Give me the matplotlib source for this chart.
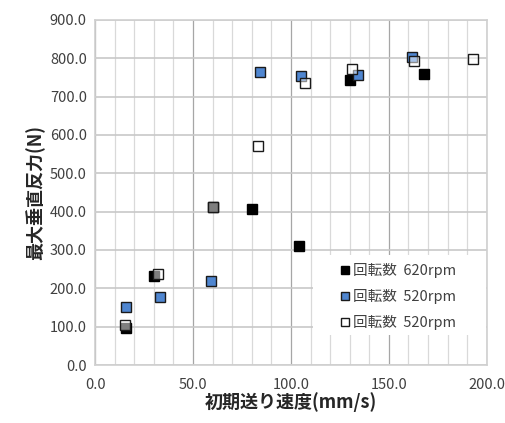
import matplotlib
matplotlib.use('Agg')
import matplotlib.pyplot as plt
from matplotlib.patches import Rectangle
from matplotlib.ticker import MultipleLocator, FormatStrFormatter

plt.rcParams['font.family'] = ['Noto Sans CJK JP', 'DejaVu Sans']

# 回転数 620rpm
x_620 = [16, 30, 60, 80, 104, 130, 168]
y_620 = [97, 232, 411, 407, 311, 744, 760]
# 回転数 520rpm (青)
x_520a = [16, 33, 59, 84, 105, 134, 162]
y_520a = [151, 178, 219, 763, 753, 755, 803]
# 回転数 520rpm (白)
x_520b = [15, 32, 60, 83, 107, 131, 163, 193]
y_520b = [104, 238, 413, 572, 735, 773, 793, 798]

labels = ['回転数  620rpm', '回転数  520rpm', '回転数  520rpm']

fig = plt.figure(figsize=(5.06, 4.23), dpi=100)
ax = fig.add_axes([0.188, 0.137, 0.774, 0.816])

ms = 7.5
ax.plot(x_620, y_620, 's', ms=ms, mfc='black', mec='black', mew=1.0, label=labels[0], zorder=3)
ax.plot(x_520a, y_520a, 's', ms=ms, mfc='#4f86d0', mec='#1a1a1a', mew=1.0, label=labels[1], zorder=4)
ax.plot(x_520b, y_520b, 's', ms=ms, mfc=(1, 1, 1, 0.5), mec='#1a1a1a', mew=1.0, label=labels[2], zorder=5)

ax.set_xlim(0, 200)
ax.set_ylim(0, 900)
ax.xaxis.set_major_locator(MultipleLocator(50))
ax.xaxis.set_minor_locator(MultipleLocator(10))
ax.yaxis.set_major_locator(MultipleLocator(100))
ax.xaxis.set_major_formatter(FormatStrFormatter('%.1f'))
ax.yaxis.set_major_formatter(FormatStrFormatter('%.1f'))

ax.grid(which='minor', axis='x', color='#d9d9d9', lw=0.9)
ax.grid(which='major', axis='x', color='#a6a6a6', lw=0.9)
ax.grid(which='major', axis='y', color='#c8c8c8', lw=1.2)
ax.set_axisbelow(True)
for s in ax.spines.values():
    s.set_color('#d0d0d0')
    s.set_linewidth(1.2)

ax.tick_params(which='both', length=0, labelsize=10.5, colors='#404040', pad=6)
ax.tick_params(axis='x', pad=9)

ax.set_xlabel('初期送り速度(mm/s)', fontsize=13, fontweight='bold', color='#262626', labelpad=0)
ax.set_ylabel('最大垂直反力(N)', fontsize=13, fontweight='bold', color='#262626', labelpad=3)

# 凡例の白い背景
ax.add_patch(Rectangle((0.557, 0.087), 0.44, 0.232, transform=ax.transAxes,
                       facecolor='white', edgecolor='none', zorder=2))

leg = ax.legend(loc='upper left', bbox_to_anchor=(0.615, 0.308), frameon=False, fontsize=10.5,
                markerscale=0.75, handlelength=0.6, handletextpad=0.3, labelspacing=0.75,
                borderpad=0.3, borderaxespad=0.0)
for t in leg.get_texts():
    t.set_color('#404040')

fig.savefig('out.png', dpi=100)
